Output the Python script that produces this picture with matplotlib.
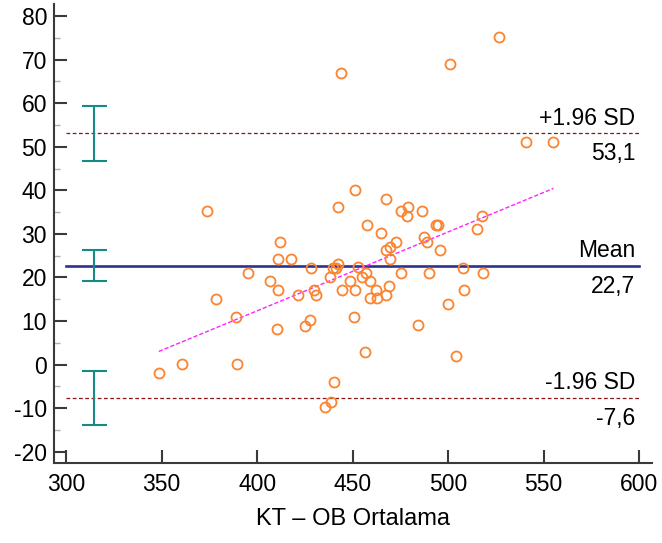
import matplotlib
matplotlib.use("Agg")
import matplotlib.pyplot as plt
import numpy as np

plt.rcParams['font.family'] = ['Liberation Sans', 'DejaVu Sans']
plt.rcParams['axes.unicode_minus'] = False

# Bland-Altman data: mean of the two methods vs. difference
mean_x = [526.6, 501.0, 444.1, 540.8, 555.2, 451.4, 442.1, 373.9, 467.5, 475.2,
          479.2, 478.7, 486.1, 457.6, 464.7, 493.9, 494.6, 517.8, 515.2, 472.7,
          469.8, 467.4, 487.4, 488.7, 495.8, 469.5, 442.3, 452.9, 438.0, 456.9,
          455.1, 459.0, 448.8, 444.3, 451.0, 462.2, 468.9, 458.9, 462.9, 467.5,
          475.3, 489.9, 507.9, 518.3, 508.4, 500.0, 450.8, 484.0, 456.3, 504.4,
          440.1, 412.2, 411.1, 417.7, 395.4, 406.9, 411.1, 428.4, 439.7, 441.5,
          421.6, 429.6, 430.7, 378.6, 388.7, 410.4, 425.1, 427.9, 348.5, 360.4,
          389.4, 435.5, 438.9]
diff_y = [75.2, 69.0, 67.0, 51.0, 51.0, 40.1, 36.1, 35.3, 38.0, 35.3,
          36.1, 34.0, 35.3, 32.0, 30.3, 32.0, 32.0, 34.0, 31.1, 28.2,
          27.1, 26.3, 29.2, 28.1, 26.3, 24.3, 23.0, 22.4, 20.2, 21.0,
          20.2, 19.2, 19.3, 17.1, 17.2, 17.1, 18.0, 15.2, 15.2, 16.0,
          21.0, 21.0, 22.2, 21.0, 17.2, 14.0, 11.0, 9.0, 3.0, 2.0,
          -3.9, 28.2, 24.2, 24.2, 21.0, 19.3, 17.1, 22.1, 22.1, 22.1,
          16.0, 17.1, 16.0, 15.1, 11.0, 8.2, 8.9, 10.2, -1.9, 0.1,
          0.1, -9.7, -8.7]

# limits of agreement
line_names = ['+1.96 SD', 'Mean', '-1.96 SD']
line_values = [53.1, 22.7, -7.6]
line_texts = ['53,1', '22,7', '-7,6']
ci_low = [46.7, 19.1, -13.9]
ci_high = [59.3, 26.3, -1.5]

# regression line
reg_slope = 0.1811
reg_intercept = -60.1

fig = plt.figure(figsize=(6.62, 5.43), dpi=100)
ax = fig.add_axes([54 / 662, 1 - 463 / 543, (652 - 54) / 662, (463 - 3.5) / 543])

ax.set_xlim(293.6, 606.8)
ax.set_ylim(-22.6, 82.9)

# limit lines
for name, val, txt in zip(line_names, line_values, line_texts):
    if name == 'Mean':
        ax.plot([300, 600], [val, val], color='#2e3190', lw=1.9, zorder=2)
    else:
        ax.plot([300, 600], [val, val], color='#8b1414', lw=0.9,
                dashes=(3, 2), zorder=2)
    ax.annotate(name, (598, val), xytext=(0, 6), textcoords='offset points',
                ha='right', va='baseline', fontsize=16.5)
    ax.annotate(txt, (598, val), xytext=(0, -19.5), textcoords='offset points',
                ha='right', va='baseline', fontsize=16.5)

# confidence intervals of limits
ci_x = [314.3] * 3
centers = np.array(line_values)
yerr = [centers - np.array(ci_low), np.array(ci_high) - centers]
ax.errorbar(ci_x, centers, yerr=yerr, fmt='none', ecolor='#168a84',
            elinewidth=1.5, capsize=9, capthick=1.5, zorder=3)

# regression line
rx = np.array([min(mean_x), max(mean_x)])
ax.plot(rx, reg_intercept + reg_slope * rx, color='#ff22ff', lw=1.0,
        dashes=(3, 1.5), zorder=3)

# points
ax.plot(mean_x, diff_y, 'o', mfc='none', mec='#fb8430', ms=7.2, mew=1.3,
        zorder=4)

for s in ['top', 'right']:
    ax.spines[s].set_visible(False)
for s in ['left', 'bottom']:
    ax.spines[s].set_color('#3a3a3a')
    ax.spines[s].set_linewidth(1.5)

ax.set_xticks(np.arange(300, 601, 50))
ax.set_yticks(np.arange(-20, 81, 10))
ax.set_yticks(np.arange(-15, 81, 10), minor=True)
ax.tick_params(axis='both', which='major', direction='in', length=9.5,
               width=1.5, color='#3a3a3a', labelsize=16.5)
ax.tick_params(axis='x', pad=7)
ax.tick_params(axis='y', pad=5)
ax.tick_params(axis='y', which='minor', direction='in', length=4.5,
               width=1, color='#b0b0b0')

ax.set_xlabel('KT \u2013 OB Ortalama', fontsize=17, labelpad=9)

fig.savefig('out.png', dpi=100)
